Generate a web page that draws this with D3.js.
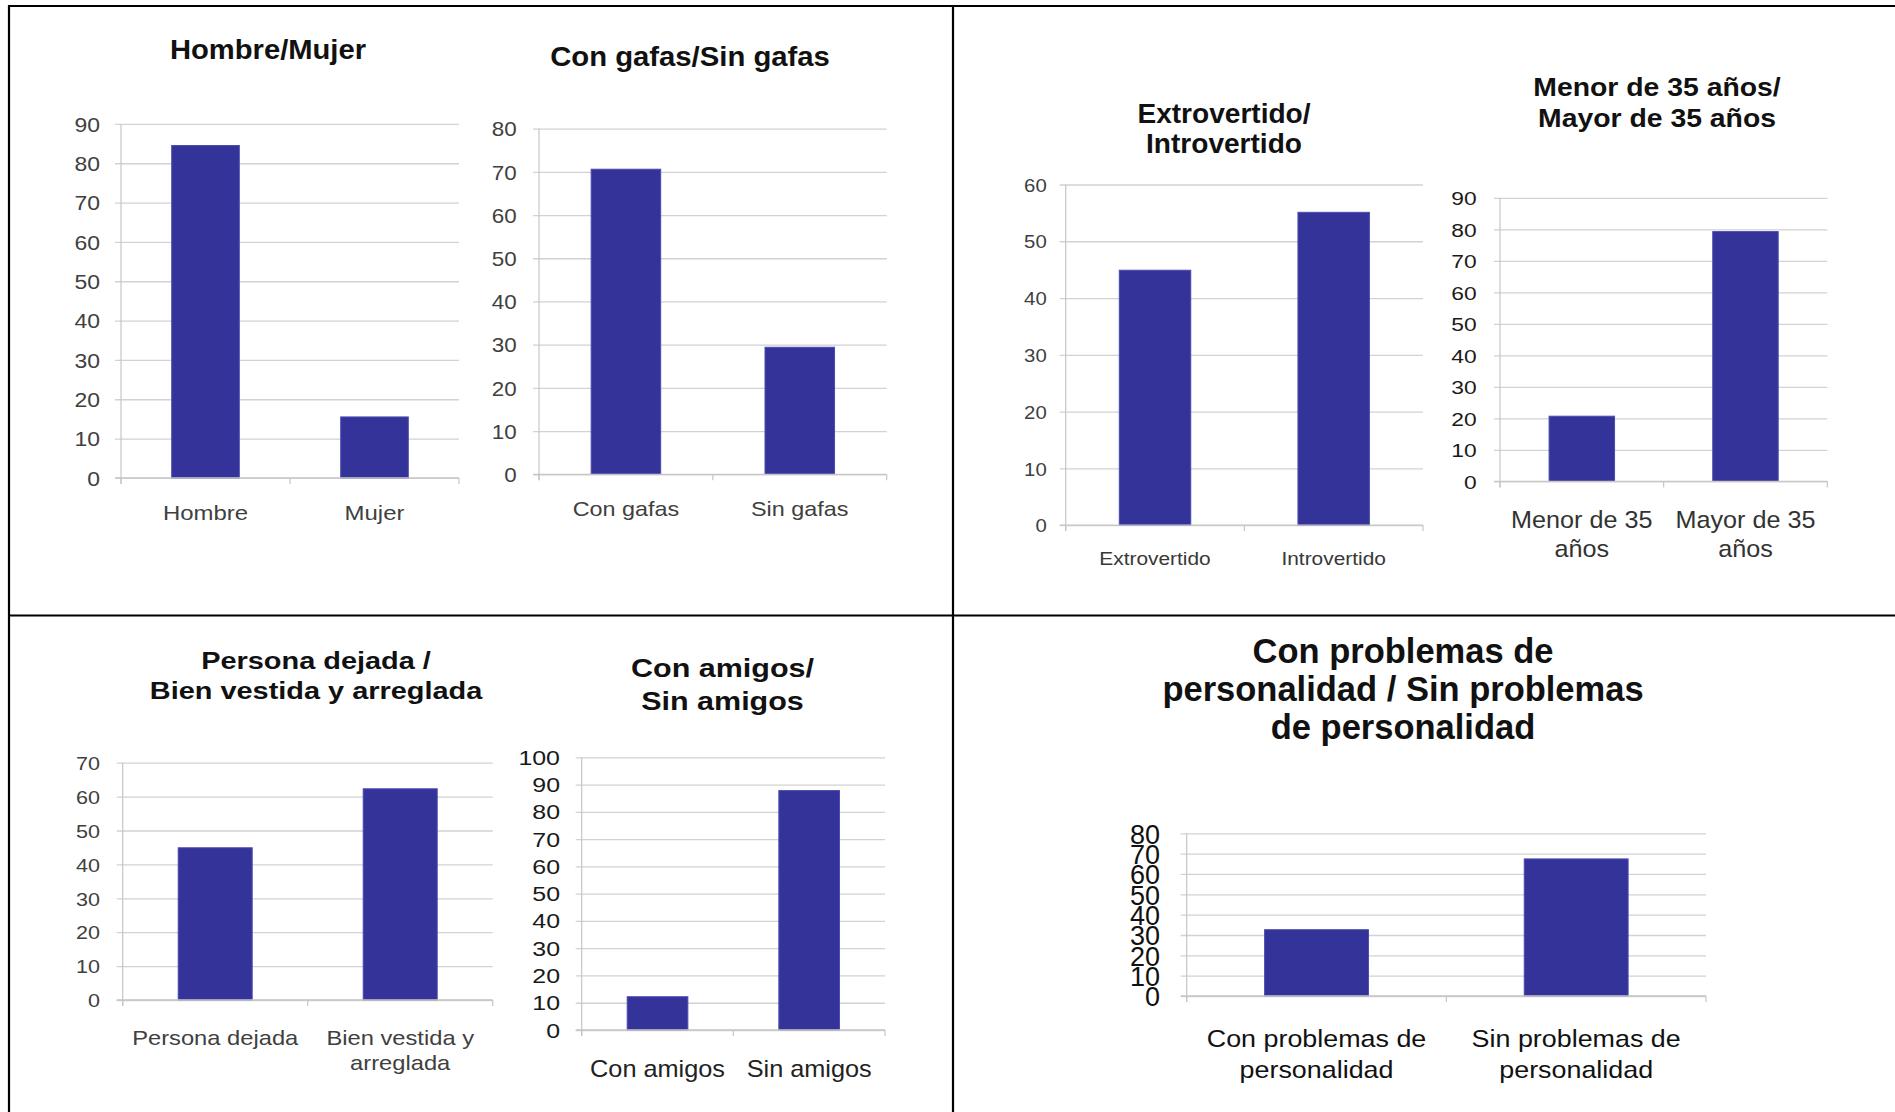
<!DOCTYPE html>
<html><head><meta charset="utf-8">
<script src="https://cdn.jsdelivr.net/npm/d3@7"></script>
<style>html,body{margin:0;padding:0;background:#fff;} svg{display:block;}</style>
</head><body>
<svg id="c" width="1895" height="1112"></svg>
<script>
// ---------------- data ----------------
const title1 = ["Hombre/Mujer"];
const categories1 = ["Hombre", "Mujer"];
const values1 = [84.5, 15.5];
const yTicks1 = [0, 10, 20, 30, 40, 50, 60, 70, 80, 90];

const title2 = ["Con gafas/Sin gafas"];
const categories2 = ["Con gafas", "Sin gafas"];
const values2 = [70.6, 29.4];
const yTicks2 = [0, 10, 20, 30, 40, 50, 60, 70, 80];

const title3 = ["Extrovertido/", "Introvertido"];
const categories3 = ["Extrovertido", "Introvertido"];
const values3 = [44.9, 55.1];
const yTicks3 = [0, 10, 20, 30, 40, 50, 60];

const title4 = ["Menor de 35 años/", "Mayor de 35 años"];
const categories4 = ["Menor de 35\naños", "Mayor de 35\naños"];
const values4 = [20.7, 79.3];
const yTicks4 = [0, 10, 20, 30, 40, 50, 60, 70, 80, 90];

const title5 = ["Persona dejada /", "Bien vestida y arreglada"];
const categories5 = ["Persona dejada", "Bien vestida y\narreglada"];
const values5 = [44.9, 62.3];
const yTicks5 = [0, 10, 20, 30, 40, 50, 60, 70];

const title6 = ["Con amigos/", "Sin amigos"];
const categories6 = ["Con amigos", "Sin amigos"];
const values6 = [12.2, 87.8];
const yTicks6 = [0, 10, 20, 30, 40, 50, 60, 70, 80, 90, 100];

const title7 = ["Con problemas de", "personalidad / Sin problemas", "de personalidad"];
const categories7 = ["Con problemas de\npersonalidad", "Sin problemas de\npersonalidad"];
const values7 = [32.6, 67.4];
const yTicks7 = [0, 10, 20, 30, 40, 50, 60, 70, 80];

// ---------------- layout ----------------
const FONT = "'Liberation Sans', Arial, Helvetica, sans-serif";
const BAR = "#333399";

const layouts = [
  {title: title1, cats: categories1, vals: values1, ticks: yTicks1,
   x0: 121, x1: 459, yMax: 90, yTopPx: 123.9, y0Px: 477.9,
   tCx: 268, tBase: [58.9], tSize: 27, tSx: 1.08,
   kSize: 20.5, kSx: 1.12, kGap: 21, kColor: "#404040",
   cSize: 21, cSx: 1.14, cOff: 41.7, cLh: 25, cColor: "#404040"},
  {title: title2, cats: categories2, vals: values2, ticks: yTicks2,
   x0: 539, x1: 886.7, yMax: 80, yTopPx: 128.6, y0Px: 474.3,
   tCx: 690, tBase: [66.1], tSize: 27.5, tSx: 1.065,
   kSize: 20, kSx: 1.12, kGap: 22.3, kColor: "#404040",
   cSize: 20, cSx: 1.17, cOff: 41.8, cLh: 25, cColor: "#404040"},
  {title: title3, cats: categories3, vals: values3, ticks: yTicks3,
   x0: 1065.7, x1: 1423, yMax: 60, yTopPx: 184.5, y0Px: 525.1,
   tCx: 1224, tBase: [122.5, 153.1], tSize: 27, tSx: 1.04,
   kSize: 18.5, kSx: 1.1, kGap: 19, kColor: "#404040",
   cSize: 18.5, cSx: 1.13, cOff: 39.4, cLh: 22, cColor: "#383838"},
  {title: title4, cats: categories4, vals: values4, ticks: yTicks4,
   x0: 1500, x1: 1827.3, yMax: 90, yTopPx: 197.9, y0Px: 481.4,
   tCx: 1657, tBase: [95.7, 127.1], tSize: 26.5, tSx: 1.07,
   kSize: 18.7, kSx: 1.22, kGap: 23.3, kColor: "#1a1a1a",
   cSize: 24, cSx: 1.05, cOff: 46.7, cLh: 28.7, cColor: "#333333"},
  {title: title5, cats: categories5, vals: values5, ticks: yTicks5,
   x0: 122.7, x1: 492.7, yMax: 70, yTopPx: 762.7, y0Px: 1000,
   tCx: 316, tBase: [669.3, 699.3], tSize: 24.5, tSx: 1.18,
   kSize: 18.6, kSx: 1.16, kGap: 22.7, kColor: "#404040",
   cSize: 21, cSx: 1.13, cOff: 45, cLh: 25, cColor: "#404040"},
  {title: title6, cats: categories6, vals: values6, ticks: yTicks6,
   x0: 581.7, x1: 885, yMax: 100, yTopPx: 757.3, y0Px: 1030,
   tCx: 722.5, tBase: [677.3, 710], tSize: 25, tSx: 1.22,
   kSize: 19.5, kSx: 1.28, kGap: 21.7, kColor: "#1a1a1a",
   cSize: 23, cSx: 1.1, cOff: 47, cLh: 25, cColor: "#222222"},
  {title: title7, cats: categories7, vals: values7, ticks: yTicks7,
   x0: 1186.7, x1: 1706, yMax: 80, yTopPx: 833.3, y0Px: 996,
   tCx: 1403, tBase: [663, 701, 739], tSize: 34.5, tSx: 1.0,
   kSize: 27, kSx: 1.0, kGap: 26.7, kColor: "#111111",
   cSize: 24, cSx: 1.12, cOff: 50.7, cLh: 31.6, cColor: "#111111"}
];

// ---------------- drawing ----------------
const svg = d3.select("#c");
svg.append("rect").attr("width", 1895).attr("height", 1112).attr("fill", "#fff");

function stext(g, x, y, s, size, sx, anchor, weight, color) {
  return g.append("text")
    .attr("transform", `translate(${x},${y}) scale(${sx},1)`)
    .attr("text-anchor", anchor)
    .attr("font-family", FONT)
    .attr("font-size", size)
    .attr("font-weight", weight)
    .attr("fill", color)
    .text(s);
}

function drawChart(L) {
  const g = svg.append("g");
  const y = d3.scaleLinear().domain([0, L.yMax]).range([L.y0Px, L.yTopPx]);
  const x = d3.scaleBand().domain(L.cats).range([L.x0, L.x1]).paddingInner(0.6).paddingOuter(0.3);
  const step = x.step();

  // gridlines (with outside tick marks)
  const grid = g.append("g").attr("transform", `translate(${L.x0 - 6},0)`)
    .call(d3.axisRight(y).tickValues(L.ticks).tickSize(L.x1 - L.x0 + 6).tickFormat(""));
  grid.select(".domain").remove();
  grid.selectAll("line").attr("stroke", "#d2d2d2").attr("stroke-width", 1.3);

  // value axis line
  g.append("line").attr("x1", L.x0).attr("x2", L.x0)
    .attr("y1", y(L.yMax)).attr("y2", y(0) + 6)
    .attr("stroke", "#c6c6c6").attr("stroke-width", 1.2);

  // bars
  g.selectAll("rect.bar").data(L.vals).join("rect").attr("class", "bar")
    .attr("x", (d, i) => x(L.cats[i]))
    .attr("y", d => y(d))
    .attr("width", x.bandwidth())
    .attr("height", d => y(0) - y(d))
    .attr("fill", BAR)
    .attr("stroke", "#4b4bb0").attr("stroke-width", 1);

  // category axis baseline + tick marks
  g.append("line").attr("x1", L.x0 - 6).attr("x2", L.x1)
    .attr("y1", y(0)).attr("y2", y(0))
    .attr("stroke", "#c6c6c6").attr("stroke-width", 1.3);
  const bounds = L.cats.map((c, i) => L.x0 + i * step).concat([L.x1]);
  g.selectAll("line.ctick").data(bounds).join("line").attr("class", "ctick")
    .attr("x1", d => d).attr("x2", d => d)
    .attr("y1", y(0)).attr("y2", y(0) + 6)
    .attr("stroke", "#c6c6c6").attr("stroke-width", 1.2);

  // value tick labels
  const ax = g.append("g").attr("transform", `translate(${L.x0},0)`)
    .call(d3.axisLeft(y).tickValues(L.ticks).tickSize(0).tickPadding(L.kGap));
  ax.select(".domain").remove();
  ax.selectAll("line").remove();
  ax.selectAll("text")
    .attr("font-family", FONT).attr("font-size", L.kSize).attr("fill", L.kColor)
    .attr("x", -L.kGap / L.kSx).attr("dy", "0.36em")
    .attr("transform", `scale(${L.kSx},1)`);

  // category labels
  L.cats.forEach(c => {
    const cx = x(c) + x.bandwidth() / 2;
    c.split("\n").forEach((line, k) => {
      stext(g, cx, y(0) + L.cOff + k * L.cLh, line, L.cSize, L.cSx, "middle", "normal", L.cColor);
    });
  });

  // title
  L.title.forEach((line, k) => {
    stext(g, L.tCx, L.tBase[k], line, L.tSize, L.tSx, "middle", "bold", "#111");
  });
}

layouts.forEach(drawChart);

// table borders
const borders = svg.append("g").attr("stroke", "#000").attr("stroke-width", 2.2);
borders.append("line").attr("x1", 9).attr("x2", 1895).attr("y1", 6).attr("y2", 6);
borders.append("line").attr("x1", 9).attr("x2", 1895).attr("y1", 615.5).attr("y2", 615.5);
borders.append("line").attr("x1", 9).attr("x2", 9).attr("y1", 5).attr("y2", 1112);
borders.append("line").attr("x1", 953).attr("x2", 953).attr("y1", 5).attr("y2", 1112);
</script>
</body></html>
